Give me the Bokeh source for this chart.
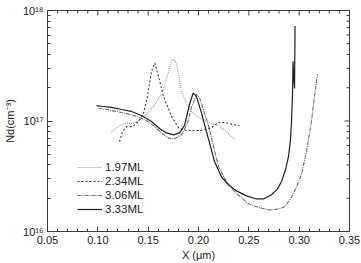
import math
from bokeh.plotting import figure
from bokeh.models import (LinearAxis, LogAxis, LogScale, FixedTicker, NumeralTickFormatter,
                          CustomJSTickFormatter, Legend, LegendItem, Range1d)
from bokeh.embed import file_html
from bokeh.resources import INLINE

# ---- data: doping profiles Nd(x) for four InAs coverages ----
series_names = ["1.97ML", "2.34ML", "3.06ML", "3.33ML"]

x_197 = [0.1136, 0.1205, 0.1265, 0.1364, 0.1464, 0.1553, 0.1632, 0.1682, 0.1732, 0.1752,
         0.1781, 0.1831, 0.1880, 0.1930, 0.2030, 0.2129, 0.2199, 0.2278, 0.2358]
y_197 = [8.0e16, 8.9e16, 9.55e16, 9.55e16, 1.10e17, 1.36e17, 1.74e17, 2.38e17, 3.48e17, 3.62e17,
         3.3e17, 1.85e17, 1.44e17, 1.22e17, 1.03e17, 9.5e16, 9.1e16, 8.0e16, 6.8e16]

x_234 = [0.1215, 0.1245, 0.1285, 0.1344, 0.1404, 0.1454, 0.1493, 0.1533, 0.1566, 0.1603,
         0.1652, 0.1732, 0.1801, 0.1880, 0.2030, 0.2129, 0.2199, 0.2268, 0.2338, 0.2407]
y_234 = [6.5e16, 8.0e16, 8.9e16, 8.9e16, 9.9e16, 1.17e17, 1.67e17, 2.82e17, 3.35e17, 2.54e17,
         1.67e17, 1.10e17, 8.7e16, 8.2e16, 8.2e16, 8.7e16, 9.7e16, 9.7e16, 9.3e16, 9.1e16]

x_306 = [0.1004, 0.1086, 0.1185, 0.1285, 0.1384, 0.1483, 0.1563, 0.1632, 0.1702, 0.1762,
         0.1831, 0.1890, 0.1930, 0.1980, 0.2010, 0.2060, 0.2109, 0.2149, 0.2199, 0.2278,
         0.2358, 0.2497, 0.2606, 0.2705, 0.2794, 0.2854, 0.2914, 0.2964, 0.3023, 0.3073,
         0.3122, 0.3152, 0.3182]
y_306 = [1.31e17, 1.27e17, 1.22e17, 1.17e17, 1.10e17, 1.01e17, 8.9e16, 7.8e16, 7.0e16, 6.9e16,
         7.5e16, 9.5e16, 1.33e17, 1.74e17, 1.63e17, 1.18e17, 8.4e16, 5.9e16, 3.85e16, 2.82e16,
         2.29e16, 1.78e16, 1.64e16, 1.57e16, 1.60e16, 1.67e16, 1.97e16, 2.43e16, 3.27e16, 5.3e16,
         9.9e16, 1.67e17, 2.65e17]

x_333 = [0.0987, 0.1036, 0.1136, 0.1235, 0.1334, 0.1434, 0.1533, 0.1613, 0.1682, 0.1752,
         0.1811, 0.1861, 0.1910, 0.1947, 0.1980, 0.2030, 0.2079, 0.2119, 0.2159, 0.2228,
         0.2298, 0.2377, 0.2477, 0.2576, 0.2646, 0.2725, 0.2785, 0.2824, 0.2864, 0.2894,
         0.2914, 0.2924, 0.2934, 0.2939, 0.2947, 0.2954, 0.2957, 0.2959]
y_333 = [1.38e17, 1.36e17, 1.33e17, 1.27e17, 1.22e17, 1.12e17, 9.9e16, 8.55e16, 7.8e16, 7.5e16,
         7.8e16, 9.1e16, 1.41e17, 1.79e17, 1.67e17, 1.18e17, 8.0e16, 5.9e16, 4.3e16, 3.13e16,
         2.65e16, 2.33e16, 2.1e16, 1.97e16, 1.97e16, 2.15e16, 2.43e16, 2.82e16, 3.62e16, 4.75e16,
         6.8e16, 9.9e16, 1.74e17, 3.48e17, 2.43e17, 1.97e17, 4.29e17, 7.23e17]

x_lo, x_hi = 0.05, 0.35
y_lo, y_hi = 1e16, 1e18
x_ticks = [0.05, 0.10, 0.15, 0.20, 0.25, 0.30, 0.35]
x_minor = [round(0.05 + 0.01 * i, 2) for i in range(31)]
y_ticks = [1e16, 1e17, 1e18]
y_tick_labels = ["10\u00b9\u2076", "10\u00b9\u2077", "10\u00b9\u2078"]
y_minor = [m * 10.0 ** e for e in (16, 17) for m in range(1, 10)] + [1e18]

FONT = "Liberation Sans"
AX = "#3a3a3a"
TXT = "#1a1a1a"

p = figure(width=361, height=263, frame_width=302, frame_height=221,
           x_axis_type=None, y_axis_type=None,
           x_range=Range1d(x_lo, x_hi), y_range=Range1d(y_lo, y_hi),
           output_backend="svg", toolbar_location=None)
p.y_scale = LogScale()
p.min_border_left = 46
p.min_border_right = 13
p.min_border_top = 10
p.min_border_bottom = 33
p.xgrid.visible = False
p.ygrid.visible = False
p.outline_line_color = AX
p.background_fill_color = "white"
p.border_fill_color = "white"


def style(ax):
    ax.axis_line_color = AX
    ax.major_tick_line_color = AX
    ax.minor_tick_line_color = AX
    ax.major_tick_in = 5
    ax.major_tick_out = 0
    ax.minor_tick_in = 3
    ax.minor_tick_out = 0
    ax.major_label_text_font = FONT
    ax.major_label_text_color = TXT
    ax.major_label_text_font_size = "11px"
    ax.axis_label_text_font = FONT
    ax.axis_label_text_font_style = "normal"
    ax.axis_label_text_color = TXT
    ax.axis_label_text_font_size = "11px"


xt = FixedTicker(ticks=x_ticks, minor_ticks=x_minor)
yt = FixedTicker(ticks=y_ticks, minor_ticks=y_minor)
yfmt = CustomJSTickFormatter(args=dict(labels=y_tick_labels), code="""
    const e = Math.round(Math.log10(tick));
    return labels[e - 16];
""")

xb = LinearAxis(ticker=xt, formatter=NumeralTickFormatter(format="0.00"),
                axis_label="X (\u03bcm)")
style(xb)
xb.major_label_standoff = 4
xb.axis_label_standoff = 2
p.add_layout(xb, "below")

yl = LogAxis(ticker=yt, formatter=yfmt, axis_label="Nd(cm\u207b\u00b3)")
style(yl)
yl.major_label_standoff = 4
yl.axis_label_standoff = 4
p.add_layout(yl, "left")

# mirrored inward ticks along the top and right edges of the frame
x_major_set = set(x_ticks)
p.ray(x=x_minor, y=[y_hi] * len(x_minor),
      length=[5 if v in x_major_set else 3 for v in x_minor],
      length_units="screen", angle=-math.pi / 2, line_color=AX, line_width=1)
p.ray(x=[x_hi] * len(y_minor), y=y_minor,
      length=[5 if v in y_ticks else 3 for v in y_minor],
      length_units="screen", angle=math.pi, line_color=AX, line_width=1)

# ---- curves ----
r197 = p.line(x_197, y_197, line_color="#9a9a9a", line_width=1.1, line_dash="1 1")
r234 = p.line(x_234, y_234, line_color="#3c3c3c", line_width=1.1, line_dash="2 2")
r306 = p.line(x_306, y_306, line_color="#6a6a6a", line_width=1.1, line_dash="4 1 1 1")
r333 = p.line(x_333, y_333, line_color="#1e1e1e", line_width=1.2)

legend = Legend(items=[LegendItem(label=n, renderers=[r]) for n, r in
                       zip(series_names, [r197, r234, r306, r333])],
                location=(30, 15), orientation="vertical",
                border_line_color=None, background_fill_alpha=0,
                padding=0, margin=0, spacing=0,
                glyph_width=25, glyph_height=14, label_height=14,
                label_standoff=3,
                label_text_font=FONT, label_text_font_size="11.5px",
                label_text_color=TXT)
p.add_layout(legend, "center")

open("out.html", "w").write(file_html(p, INLINE))
